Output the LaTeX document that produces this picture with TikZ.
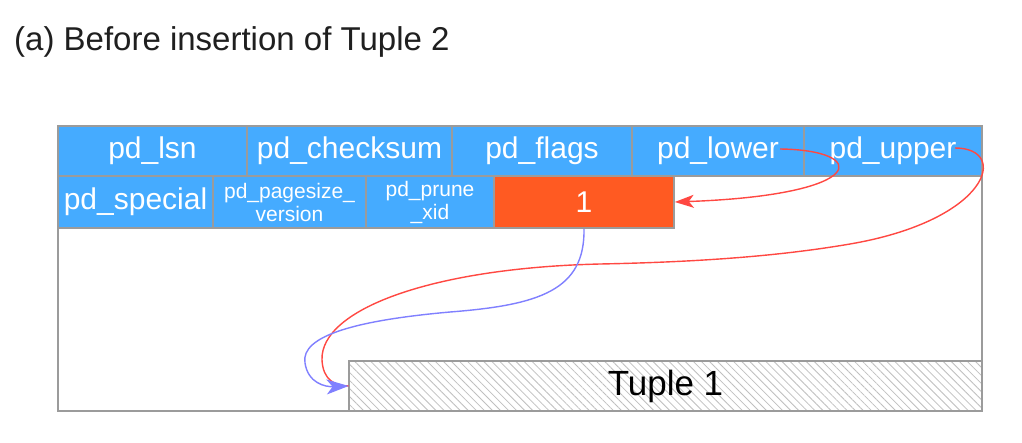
\documentclass[tikz,border=0pt]{standalone}
\usepackage{fontspec}
\setmainfont{Liberation Sans}
\usetikzlibrary{arrows.meta,patterns.meta}
\definecolor{cellblue}{RGB}{69,171,255}
\definecolor{cellorange}{RGB}{255,90,34}
\definecolor{bordergray}{RGB}{155,155,155}
\definecolor{arrred}{RGB}{255,72,66}
\definecolor{arrblue}{RGB}{128,128,255}
\tikzset{
  cell/.style={draw=bordergray, fill=cellblue, line width=1.6pt, text=white,
    inner sep=0pt, font=\fontsize{30}{34}\selectfont},
  smallcell/.style={cell, align=center, font=\fontsize{21}{23}\selectfont},
  hot/.style={cell, fill=cellorange},
  pagebox/.style={draw=bordergray, fill=white, line width=1.8pt, inner sep=0pt},
  tuplebox/.style={draw=bordergray, line width=1.6pt, inner sep=0pt,
    pattern={Lines[angle=-45,distance=5.7pt,line width=0.8pt]}, pattern color=gray!50,
    font=\fontsize{35}{40}\selectfont},
  redarrow/.style={draw=arrred, line width=1.4pt},
  bluearrow/.style={draw=arrblue, line width=1.4pt},
  tipred/.style={-{Stealth[length=19pt,width=13pt,inset=5pt]}},
  tipblue/.style={-{Stealth[length=22pt,width=15pt,inset=6pt]}},
}
\begin{document}
\begin{tikzpicture}[x=1pt,y=-1pt]
\useasboundingbox (0,0) rectangle (1022,442);
\fill[white] (0,0) rectangle (1022,442);
\node[anchor=base west, font=\fontsize{33}{38}\selectfont, text=black!88, inner sep=0pt] (title) at (14,50) {(a) Before insertion of Tuple 2};
% page outline
\node[pagebox, minimum width=924pt, minimum height=285pt] (page) at (520,268.5) {};
% first header row
\node[cell, minimum width=189pt, minimum height=50pt] (lsn) at (152.5,151) {pd\_lsn};
\node[cell, minimum width=205pt, minimum height=50pt] (checksum) at (349.5,151) {pd\_checksum};
\node[cell, minimum width=180pt, minimum height=50pt] (flags) at (542,151) {pd\_flags};
\node[cell, minimum width=172pt, minimum height=50pt] (lower) at (718,151) {pd\_lower};
\node[cell, minimum width=178pt, minimum height=50pt] (upper) at (893,151) {pd\_upper};
% second header row
\node[cell, minimum width=155pt, minimum height=52pt] (special) at (135.5,202) {pd\_special};
\node[smallcell, minimum width=153pt, minimum height=52pt] (pagesize) at (289.5,202) {pd\_pagesize\_\\version};
\node[smallcell, minimum width=128pt, minimum height=52pt] (prune) at (430,202) {pd\_prune\\\_xid};
\node[hot, minimum width=180pt, minimum height=52pt] (one) at (584,202) {1};
% tuple
\node[tuplebox, minimum width=633pt, minimum height=50pt] (tuple) at (665.5,386) {Tuple 1};
% connector anchors
\coordinate (lowerEnd) at (780,149);
\coordinate (upperEnd) at (955,148);
\coordinate (tupleIn) at (tuple.west);
% pd_lower -> free space start
\draw[redarrow, tipred] (lowerEnd) .. controls (870,150) and (870,195) .. (one.east);
% pd_upper -> tuple 1
\draw[redarrow] (upperEnd) .. controls (1010,148) and (990,220) .. (850,244)
  .. controls (780,256) and (700,262) .. (600,264)
  .. controls (430,268) and (320,310) .. (322,360)
  .. controls (323,380) and (335,386) .. (tupleIn);
% line pointer 1 -> tuple 1
\draw[bluearrow, tipblue] (one.south) .. controls (585,290) and (540,305) .. (450,312)
  .. controls (360,320) and (300,335) .. (305,363)
  .. controls (308,383) and (325,387) .. (tupleIn);
\end{tikzpicture}
\end{document}
